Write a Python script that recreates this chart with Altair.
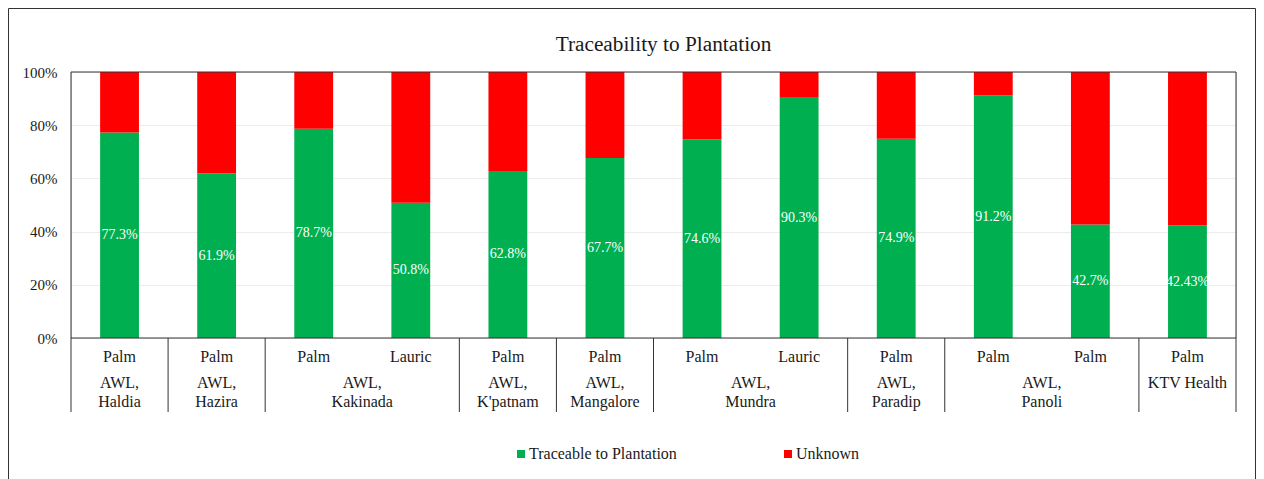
import altair as alt
import pandas as pd

# ---- data ----
title_text = "Traceability to Plantation"
series = ["Traceable to Plantation", "Unknown"]
series_colors = ["#00B050", "#FF0000"]
plants = ["Palm", "Palm", "Palm", "Lauric", "Palm", "Palm", "Palm", "Lauric", "Palm", "Palm", "Palm", "Palm"]
bar_groups = ["AWL,\nHaldia", "AWL,\nHazira", "AWL,\nKakinada", "AWL,\nKakinada", "AWL,\nK'patnam",
              "AWL,\nMangalore", "AWL,\nMundra", "AWL,\nMundra", "AWL,\nParadip", "AWL,\nPanoli",
              "AWL,\nPanoli", "KTV Health"]
traceable = [77.3, 61.9, 78.7, 50.8, 62.8, 67.7, 74.6, 90.3, 74.9, 91.2, 42.7, 42.43]
bar_labels = ["77.3%", "61.9%", "78.7%", "50.8%", "62.8%", "67.7%", "74.6%", "90.3%", "74.9%",
              "91.2%", "42.7%", "42.43%"]
y_ticks = [0, 0.2, 0.4, 0.6, 0.8, 1.0]

# ---- layout constants ----
W, H = 1165, 266
FONT = "Liberation Serif"
TXT = "#1a1a1a"
LINE = "#333333"
N = len(plants)

# ---- tables built from the arrays ----
bar_rows, lab_rows, plant_rows = [], [], []
for i, (p, g, t, lab) in enumerate(zip(plants, bar_groups, traceable, bar_labels)):
    bar_rows.append(dict(x0=i + 0.3, x1=i + 0.7, lo=0.0, hi=t / 100, series=series[0], order=0))
    bar_rows.append(dict(x0=i + 0.3, x1=i + 0.7, lo=t / 100, hi=1.0, series=series[1], order=1))
    lab_rows.append(dict(xc=i + 0.5, yc=t / 200, label=lab))
    plant_rows.append(dict(xc=i + 0.5, plant=p))
bars_df = pd.DataFrame(bar_rows)
lab_df = pd.DataFrame(lab_rows)
plant_df = pd.DataFrame(plant_rows)

grp_rows, bounds = [], [0]
start = 0
for i in range(1, N + 1):
    if i == N or bar_groups[i] != bar_groups[start]:
        grp_rows.append(dict(xc=(start + i) / 2, grp=bar_groups[start]))
        bounds.append(i)
        start = i
grp_df = pd.DataFrame(grp_rows)
sep_df = pd.DataFrame(dict(xb=bounds))
one = pd.DataFrame(dict(k=[0]))
title_df = pd.DataFrame(dict(t=[title_text]))

xscale = alt.Scale(domain=[0, N], nice=False, zero=False)
yscale = alt.Scale(domain=[0, 1], nice=False)

frame = alt.Chart(one).mark_rect(fillOpacity=0, stroke=LINE, strokeWidth=1).encode(
    x=alt.value(-62.5), x2=alt.value(W + 19.5), y=alt.value(-63.5), y2=alt.value(H + 160)
)

bars = alt.Chart(bars_df).mark_bar().encode(
    x=alt.X("x0:Q", scale=xscale, axis=None),
    x2="x1:Q",
    y=alt.Y("lo:Q", scale=yscale, axis=alt.Axis(
        format=".0%", values=y_ticks, ticks=False, domain=False, labelPadding=14,
        labelFont=FONT, labelFontSize=15, labelColor=TXT, gridColor="#ececec", title=None)),
    y2="hi:Q",
    color=alt.Color("series:N", scale=alt.Scale(domain=series, range=series_colors),
                    legend=alt.Legend(title=None, orient="none", legendX=442, legendY=374,
                                      padding=0, direction="horizontal", symbolType="square",
                                      symbolSize=64, symbolStrokeWidth=0, labelFont=FONT,
                                      labelFontSize=16, labelColor=TXT, labelOffset=0,
                                      columnPadding=103, labelLimit=400)),
    order="order:Q",
)

values = alt.Chart(lab_df).mark_text(font=FONT, fontSize=14, color="white").encode(
    x=alt.X("xc:Q", scale=xscale, axis=None),
    y=alt.Y("yc:Q", scale=yscale),
    text="label:N",
)

plant_txt = alt.Chart(plant_df).mark_text(font=FONT, fontSize=16, color=TXT, baseline="top").encode(
    x=alt.X("xc:Q", scale=xscale, axis=None),
    y=alt.value(H + 11),
    text="plant:N",
)

grp_txt = alt.Chart(grp_df).mark_text(font=FONT, fontSize=16, color=TXT, baseline="top",
                                      lineBreak="\n", lineHeight=19).encode(
    x=alt.X("xc:Q", scale=xscale, axis=None),
    y=alt.value(H + 37),
    text="grp:N",
)

seps = alt.Chart(sep_df).mark_rule(color=LINE, strokeWidth=1).encode(
    x=alt.X("xb:Q", scale=xscale, axis=None),
    y=alt.value(H),
    y2=alt.value(H + 74),
)

plot_box = alt.Chart(one).mark_rect(fillOpacity=0, stroke=LINE, strokeWidth=1).encode(
    x=alt.value(0), x2=alt.value(W), y=alt.value(0), y2=alt.value(H)
)

title = alt.Chart(title_df).mark_text(font=FONT, fontSize=21.3, color=TXT, baseline="middle").encode(
    x=alt.value(W / 2 + 10), y=alt.value(-27), text="t:N"
)

chart = alt.layer(frame, bars, values, plant_txt, grp_txt, seps, plot_box, title).properties(
    width=W, height=H,
    padding={"left": 63, "top": 64, "right": 20, "bottom": 150},
    autosize=alt.AutoSizeParams(type="none"),
).configure_view(stroke=None).configure_legend(
    labelFont=FONT, labelFontSize=16, labelColor=TXT
).configure(font=FONT)

chart.save("out.html", embed_options={"renderer": "svg", "actions": False})
